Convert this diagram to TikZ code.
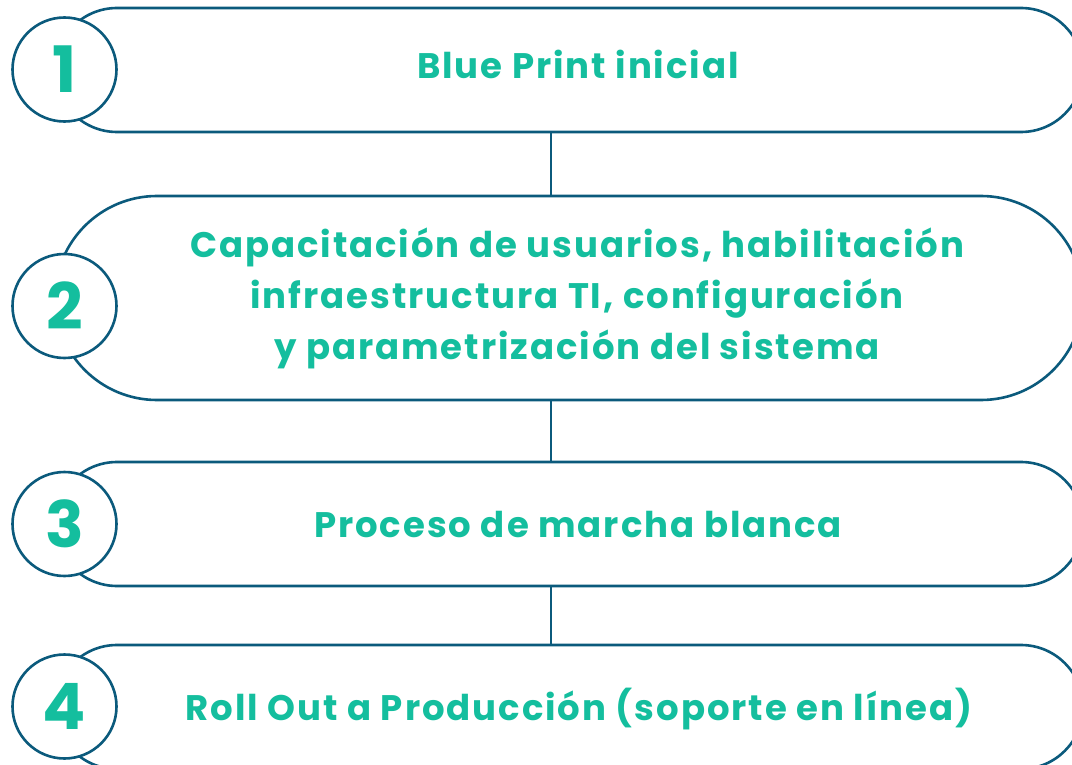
\documentclass[tikz,border=0pt]{standalone}
\usepackage{fontspec}
\setmainfont{Poppins}[UprightFont=* Bold, BoldFont=* Bold]
\newfontfamily\stepfont{Poppins}[UprightFont=* Bold, LetterSpace=5.5]
\usetikzlibrary{shapes.misc}
\definecolor{edgeblue}{HTML}{0B5A7C}
\definecolor{tealtxt}{HTML}{14BE9E}
\tikzset{
  stadium/.style={rounded rectangle, draw=edgeblue, line width=2.6pt, fill=white, inner sep=0pt, minimum width=1028pt},
  numcircle/.style={circle, draw=edgeblue, line width=2.6pt, fill=white, inner sep=0pt, minimum size=104pt, text=tealtxt, font=\fontsize{64}{64}\selectfont},
  steptext/.style={text=tealtxt, font=\stepfont\fontsize{35.5}{51}\selectfont, align=center, inner sep=0pt},
  link/.style={draw=edgeblue, line width=2.6pt}
}
\begin{document}
\begin{tikzpicture}[x=1pt,y=-1pt]
\useasboundingbox (0,0) rectangle (1072,765);
\clip (0,0) rectangle (1072,765);
\coordinate (axis) at (551,0);
% stadiums
\node[stadium, minimum height=124pt] (b1) at (569,70) {};
\node[stadium, minimum height=204pt] (b2) at (569,298) {};
\node[stadium, minimum height=124pt] (b3) at (569,524) {};
\node[stadium, minimum height=124pt] (b4) at (569,707) {};
% connectors
\draw[link] (b1.south -| axis) -- (b2.north -| axis);
\draw[link] (b2.south -| axis) -- (b3.north -| axis);
\draw[link] (b3.south -| axis) -- (b4.north -| axis);
% number circles
\node[numcircle] (c1) at (64.5,69.5) {1};
\node[numcircle] (c2) at (64.5,306) {2};
\node[numcircle] (c3) at (64.5,524) {3};
\node[numcircle] (c4) at (64.5,706.5) {4};
% texts
\node[steptext] (t1) at (578,64) {Blue Print inicial};
\node[steptext] (t2) at (577,298) {Capacitación de usuarios, habilitación\\infraestructura TI, configuración\\y parametrización del sistema};
\node[steptext] (t3) at (578,525) {Proceso de marcha blanca};
\node[steptext] (t4) at (579,709) {Roll Out a Producción (soporte en línea)};
\end{tikzpicture}
\end{document}
